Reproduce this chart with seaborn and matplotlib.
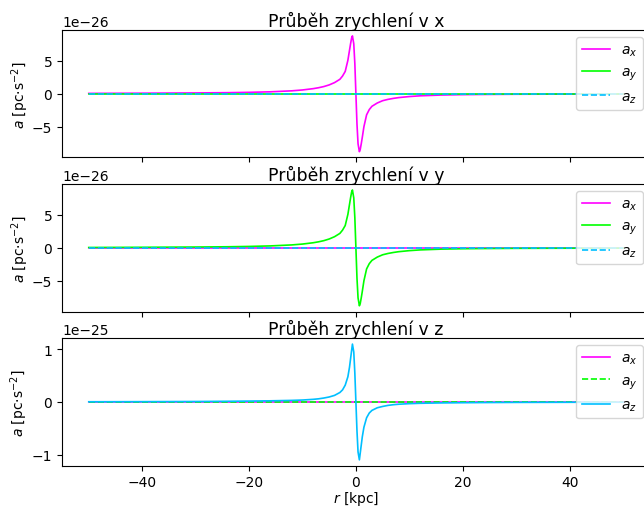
import matplotlib
matplotlib.use("Agg")
import matplotlib.pyplot as plt
import seaborn as sns

# ==========================================
# DATA
# ==========================================

# radial coordinate of the sampled curve [kpc]
R = [-50, -40, -30, -24, -20, -16, -12, -10, -8, -7, -6, -5, -4, -3, -2.5, -2,
     -1.5, -1.2, -1.0, -0.8, -0.65, -0.4, -0.2,
     0,
     0.2, 0.4, 0.65, 0.8, 1.0, 1.2, 1.5, 2, 2.5, 3, 4, 5, 6, 7, 8, 10, 12,
     16, 20, 24, 30, 40, 50]

# acceleration in x (units of 1e-26 pc/s^2)
A_X = [0.06, 0.09, 0.13, 0.17, 0.22, 0.30, 0.45, 0.58, 0.78, 0.92, 1.10, 1.35,
       1.70, 2.20, 2.70, 3.40, 5.10, 6.60, 7.60, 8.50, 8.80, 7.60, 4.60,
       0.0,
       -4.60, -7.60, -8.80, -8.50, -7.60, -6.60, -5.00, -3.20, -2.40, -1.90,
       -1.40, -1.05, -0.85, -0.70, -0.58, -0.42, -0.31, -0.19, -0.13, -0.10,
       -0.07, -0.05, -0.035]

# acceleration in y (units of 1e-26 pc/s^2)
A_Y = [0.06, 0.09, 0.13, 0.17, 0.22, 0.30, 0.45, 0.58, 0.78, 0.92, 1.10, 1.35,
       1.70, 2.20, 2.70, 3.40, 5.10, 6.60, 7.60, 8.50, 8.80, 7.60, 4.60,
       0.0,
       -4.60, -7.60, -8.80, -8.50, -7.60, -6.60, -5.00, -3.20, -2.40, -1.90,
       -1.40, -1.05, -0.85, -0.70, -0.58, -0.42, -0.31, -0.19, -0.13, -0.10,
       -0.07, -0.05, -0.035]

# acceleration in z (units of 1e-25 pc/s^2)
A_Z = [0.004, 0.006, 0.009, 0.013, 0.017, 0.022, 0.030, 0.037, 0.050, 0.060,
       0.075, 0.095, 0.125, 0.18, 0.23, 0.32, 0.48, 0.66, 0.82, 0.98, 1.10,
       0.95, 0.55,
       0.0,
       -0.55, -0.95, -1.10, -0.98, -0.82, -0.66, -0.48, -0.30, -0.21, -0.16,
       -0.11, -0.085, -0.065, -0.052, -0.043, -0.032, -0.025, -0.018, -0.014,
       -0.011, -0.008, -0.006, -0.004]

UNIT_XY = 1e-26
UNIT_Z = 1e-25

# the other components are zero along the whole range
R_FLAT = [-50, 50]
A_FLAT = [0.0, 0.0]

TITLES = ["Průběh zrychlení v x", "Průběh zrychlení v y", "Průběh zrychlení v z"]
LABELS = ["$a_x$", "$a_y$", "$a_z$"]
COLORS = ["#ff00ff", "#00ff00", "#00bfff"]

# ==========================================
# PLOT
# ==========================================

fig, axes = plt.subplots(3, 1, figsize=(6.44, 5.1), dpi=100, sharex=True)
fig.subplots_adjust(left=0.0963, right=1.009, top=0.939, bottom=0.085, hspace=0.21)

curves = [
    [A_X, A_FLAT, A_FLAT],
    [A_FLAT, A_Y, A_FLAT],
    [A_FLAT, A_FLAT, A_Z],
]
units = [UNIT_XY, UNIT_XY, UNIT_Z]

for i, ax in enumerate(axes):
    for j in range(3):
        vals = curves[i][j]
        xs = R if vals is not A_FLAT else R_FLAT
        ys = [v * units[i] for v in vals]
        # zero components get dashed on top of the other flat line
        dashed = (vals is A_FLAT) and (j == 2 or (i == 2 and j == 1))
        sns.lineplot(x=xs, y=ys, ax=ax, color=COLORS[j], lw=1.2,
                     linestyle="--" if dashed else "-", label=LABELS[j])
    ax.set_title(TITLES[i], fontsize=12.4, pad=3)
    ax.set_ylabel(r"$a$ [pc$\cdot$s$^{-2}$]", labelpad=1)
    ax.legend(loc="upper right")

axes[-1].set_xlabel(r"$r$ [kpc]", labelpad=0)

plt.savefig("out.png", dpi=100)
plt.close()
